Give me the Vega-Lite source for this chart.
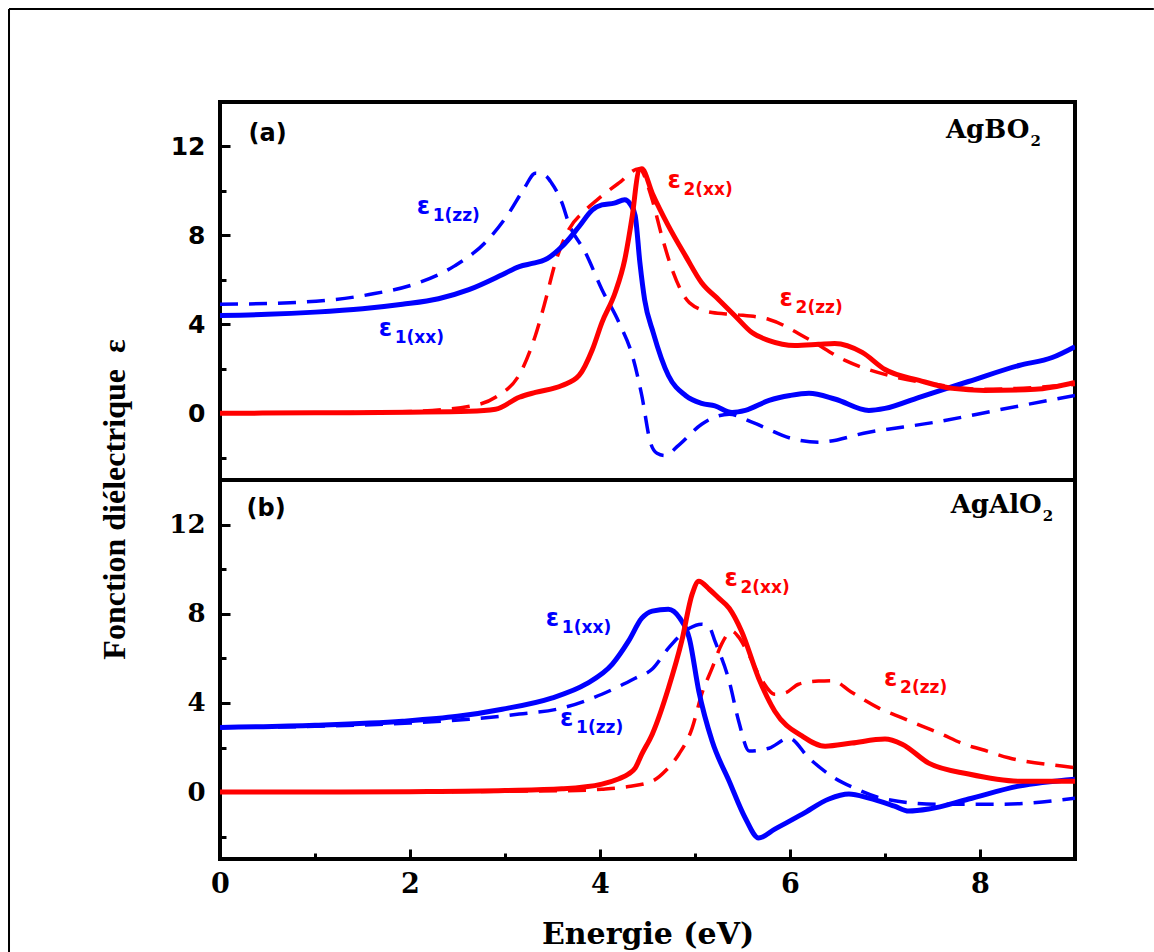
{
  "$schema": "https://vega.github.io/schema/vega-lite/v6.json",
  "padding": {"left": 6, "top": 6, "right": 0, "bottom": 0},
  "background": "white",
  "bounds": "flush",
  "spacing": 0,
  "config": {
    "view": {"stroke": "black", "strokeWidth": 4},
    "axis": {"grid": false, "domain": false, "tickColor": "black", "tickWidth": 3, "labelColor": "black", "labelFlush": false, "labelOverlap": false, "labelBound": false}
  },
  "datasets": {
    "a": [
      {"s":"e1","c":"xx","x":0,"y":4.4},{"s":"e1","c":"xx","x":0.5,"y":4.45},{"s":"e1","c":"xx","x":1,"y":4.55},{"s":"e1","c":"xx","x":1.5,"y":4.7},{"s":"e1","c":"xx","x":1.92,"y":4.9},{"s":"e1","c":"xx","x":2.3,"y":5.15},{"s":"e1","c":"xx","x":2.62,"y":5.56},{"s":"e1","c":"xx","x":2.97,"y":6.23},{"s":"e1","c":"xx","x":3.15,"y":6.6},{"s":"e1","c":"xx","x":3.3,"y":6.75},{"s":"e1","c":"xx","x":3.42,"y":6.9},{"s":"e1","c":"xx","x":3.6,"y":7.5},{"s":"e1","c":"xx","x":3.78,"y":8.4},{"s":"e1","c":"xx","x":3.92,"y":9.15},{"s":"e1","c":"xx","x":4.02,"y":9.37},{"s":"e1","c":"xx","x":4.15,"y":9.45},{"s":"e1","c":"xx","x":4.26,"y":9.6},{"s":"e1","c":"xx","x":4.32,"y":9.4},{"s":"e1","c":"xx","x":4.37,"y":8.9},{"s":"e1","c":"xx","x":4.42,"y":6.77},{"s":"e1","c":"xx","x":4.47,"y":5.1},{"s":"e1","c":"xx","x":4.56,"y":3.63},{"s":"e1","c":"xx","x":4.72,"y":1.7},{"s":"e1","c":"xx","x":4.9,"y":0.8},{"s":"e1","c":"xx","x":5.07,"y":0.45},{"s":"e1","c":"xx","x":5.21,"y":0.33},{"s":"e1","c":"xx","x":5.39,"y":0.04},{"s":"e1","c":"xx","x":5.53,"y":0.13},{"s":"e1","c":"xx","x":5.78,"y":0.58},{"s":"e1","c":"xx","x":6.0,"y":0.8},{"s":"e1","c":"xx","x":6.2,"y":0.9},{"s":"e1","c":"xx","x":6.48,"y":0.63},{"s":"e1","c":"xx","x":6.83,"y":0.13},{"s":"e1","c":"xx","x":7.0,"y":0.22},{"s":"e1","c":"xx","x":7.36,"y":0.72},{"s":"e1","c":"xx","x":7.88,"y":1.43},{"s":"e1","c":"xx","x":8.41,"y":2.15},{"s":"e1","c":"xx","x":8.76,"y":2.51},{"s":"e1","c":"xx","x":9.0,"y":3.0},
      {"s":"e1","c":"zz","x":0,"y":4.9},{"s":"e1","c":"zz","x":0.86,"y":5.0},{"s":"e1","c":"zz","x":1.57,"y":5.34},{"s":"e1","c":"zz","x":2.09,"y":5.87},{"s":"e1","c":"zz","x":2.47,"y":6.63},{"s":"e1","c":"zz","x":2.79,"y":7.67},{"s":"e1","c":"zz","x":3.04,"y":9.0},{"s":"e1","c":"zz","x":3.2,"y":10.1},{"s":"e1","c":"zz","x":3.32,"y":10.8},{"s":"e1","c":"zz","x":3.42,"y":10.7},{"s":"e1","c":"zz","x":3.49,"y":10.36},{"s":"e1","c":"zz","x":3.6,"y":9.46},{"s":"e1","c":"zz","x":3.67,"y":8.56},{"s":"e1","c":"zz","x":3.85,"y":7.2},{"s":"e1","c":"zz","x":4.02,"y":5.57},{"s":"e1","c":"zz","x":4.2,"y":4.08},{"s":"e1","c":"zz","x":4.34,"y":2.6},{"s":"e1","c":"zz","x":4.44,"y":0.8},{"s":"e1","c":"zz","x":4.53,"y":-1.3},{"s":"e1","c":"zz","x":4.6,"y":-1.8},{"s":"e1","c":"zz","x":4.68,"y":-1.9},{"s":"e1","c":"zz","x":4.83,"y":-1.43},{"s":"e1","c":"zz","x":5.07,"y":-0.49},{"s":"e1","c":"zz","x":5.36,"y":-0.04},{"s":"e1","c":"zz","x":5.6,"y":-0.4},{"s":"e1","c":"zz","x":6.05,"y":-1.17},{"s":"e1","c":"zz","x":6.3,"y":-1.3},{"s":"e1","c":"zz","x":6.83,"y":-0.85},{"s":"e1","c":"zz","x":7.53,"y":-0.4},{"s":"e1","c":"zz","x":8.23,"y":0.18},{"s":"e1","c":"zz","x":9.0,"y":0.8},
      {"s":"e2","c":"xx","x":0,"y":0},{"s":"e2","c":"xx","x":1,"y":0.02},{"s":"e2","c":"xx","x":2,"y":0.05},{"s":"e2","c":"xx","x":2.62,"y":0.09},{"s":"e2","c":"xx","x":2.9,"y":0.18},{"s":"e2","c":"xx","x":3.15,"y":0.72},{"s":"e2","c":"xx","x":3.32,"y":0.94},{"s":"e2","c":"xx","x":3.6,"y":1.25},{"s":"e2","c":"xx","x":3.78,"y":1.7},{"s":"e2","c":"xx","x":3.92,"y":2.87},{"s":"e2","c":"xx","x":4.02,"y":4.08},{"s":"e2","c":"xx","x":4.16,"y":5.43},{"s":"e2","c":"xx","x":4.26,"y":6.9},{"s":"e2","c":"xx","x":4.34,"y":8.88},{"s":"e2","c":"xx","x":4.41,"y":10.94},{"s":"e2","c":"xx","x":4.44,"y":11.0},{"s":"e2","c":"xx","x":4.55,"y":9.9},{"s":"e2","c":"xx","x":4.72,"y":8.43},{"s":"e2","c":"xx","x":4.9,"y":7.08},{"s":"e2","c":"xx","x":5.07,"y":5.87},{"s":"e2","c":"xx","x":5.25,"y":5.11},{"s":"e2","c":"xx","x":5.42,"y":4.39},{"s":"e2","c":"xx","x":5.6,"y":3.63},{"s":"e2","c":"xx","x":5.78,"y":3.27},{"s":"e2","c":"xx","x":6.05,"y":3.05},{"s":"e2","c":"xx","x":6.3,"y":3.1},{"s":"e2","c":"xx","x":6.47,"y":3.14},{"s":"e2","c":"xx","x":6.76,"y":2.74},{"s":"e2","c":"xx","x":7.0,"y":1.97},{"s":"e2","c":"xx","x":7.36,"y":1.48},{"s":"e2","c":"xx","x":7.71,"y":1.12},{"s":"e2","c":"xx","x":8.05,"y":1.03},{"s":"e2","c":"xx","x":8.58,"y":1.08},{"s":"e2","c":"xx","x":9.0,"y":1.39},
      {"s":"e2","c":"zz","x":0,"y":0},{"s":"e2","c":"zz","x":1,"y":0.02},{"s":"e2","c":"zz","x":2,"y":0.08},{"s":"e2","c":"zz","x":2.68,"y":0.36},{"s":"e2","c":"zz","x":2.9,"y":0.72},{"s":"e2","c":"zz","x":3.18,"y":1.97},{"s":"e2","c":"zz","x":3.32,"y":3.5},{"s":"e2","c":"zz","x":3.42,"y":4.98},{"s":"e2","c":"zz","x":3.53,"y":6.77},{"s":"e2","c":"zz","x":3.67,"y":8.25},{"s":"e2","c":"zz","x":3.85,"y":9.15},{"s":"e2","c":"zz","x":3.97,"y":9.6},{"s":"e2","c":"zz","x":4.2,"y":10.36},{"s":"e2","c":"zz","x":4.41,"y":11.0},{"s":"e2","c":"zz","x":4.55,"y":9.6},{"s":"e2","c":"zz","x":4.65,"y":7.98},{"s":"e2","c":"zz","x":4.76,"y":6.46},{"s":"e2","c":"zz","x":4.94,"y":4.98},{"s":"e2","c":"zz","x":5.18,"y":4.53},{"s":"e2","c":"zz","x":5.42,"y":4.44},{"s":"e2","c":"zz","x":5.78,"y":4.22},{"s":"e2","c":"zz","x":6.2,"y":3.32},{"s":"e2","c":"zz","x":6.58,"y":2.38},{"s":"e2","c":"zz","x":7.04,"y":1.7},{"s":"e2","c":"zz","x":7.53,"y":1.3},{"s":"e2","c":"zz","x":8.05,"y":1.08},{"s":"e2","c":"zz","x":9.0,"y":1.3}
    ],
    "b": [
      {"s":"e1","c":"xx","x":0,"y":2.9},{"s":"e1","c":"xx","x":1,"y":3.0},{"s":"e1","c":"xx","x":1.92,"y":3.18},{"s":"e1","c":"xx","x":2.5,"y":3.4},{"s":"e1","c":"xx","x":2.97,"y":3.72},{"s":"e1","c":"xx","x":3.49,"y":4.22},{"s":"e1","c":"xx","x":3.85,"y":4.84},{"s":"e1","c":"xx","x":4.13,"y":5.74},{"s":"e1","c":"xx","x":4.3,"y":6.77},{"s":"e1","c":"xx","x":4.44,"y":7.8},{"s":"e1","c":"xx","x":4.55,"y":8.12},{"s":"e1","c":"xx","x":4.72,"y":8.2},{"s":"e1","c":"xx","x":4.84,"y":7.8},{"s":"e1","c":"xx","x":4.94,"y":6.9},{"s":"e1","c":"xx","x":5.04,"y":4.53},{"s":"e1","c":"xx","x":5.18,"y":2.29},{"s":"e1","c":"xx","x":5.36,"y":0.49},{"s":"e1","c":"xx","x":5.53,"y":-1.17},{"s":"e1","c":"xx","x":5.67,"y":-2.06},{"s":"e1","c":"xx","x":5.84,"y":-1.66},{"s":"e1","c":"xx","x":6.13,"y":-0.99},{"s":"e1","c":"xx","x":6.41,"y":-0.31},{"s":"e1","c":"xx","x":6.62,"y":-0.09},{"s":"e1","c":"xx","x":6.83,"y":-0.27},{"s":"e1","c":"xx","x":7.1,"y":-0.63},{"s":"e1","c":"xx","x":7.25,"y":-0.85},{"s":"e1","c":"xx","x":7.46,"y":-0.76},{"s":"e1","c":"xx","x":7.88,"y":-0.31},{"s":"e1","c":"xx","x":8.41,"y":0.27},{"s":"e1","c":"xx","x":9.0,"y":0.58},
      {"s":"e1","c":"zz","x":0,"y":2.9},{"s":"e1","c":"zz","x":1,"y":2.95},{"s":"e1","c":"zz","x":2,"y":3.1},{"s":"e1","c":"zz","x":2.62,"y":3.27},{"s":"e1","c":"zz","x":3.15,"y":3.5},{"s":"e1","c":"zz","x":3.6,"y":3.77},{"s":"e1","c":"zz","x":4.02,"y":4.39},{"s":"e1","c":"zz","x":4.37,"y":5.11},{"s":"e1","c":"zz","x":4.55,"y":5.52},{"s":"e1","c":"zz","x":4.72,"y":6.46},{"s":"e1","c":"zz","x":4.94,"y":7.35},{"s":"e1","c":"zz","x":5.07,"y":7.53},{"s":"e1","c":"zz","x":5.15,"y":7.4},{"s":"e1","c":"zz","x":5.21,"y":6.77},{"s":"e1","c":"zz","x":5.36,"y":4.98},{"s":"e1","c":"zz","x":5.46,"y":3.18},{"s":"e1","c":"zz","x":5.57,"y":1.84},{"s":"e1","c":"zz","x":5.78,"y":1.97},{"s":"e1","c":"zz","x":5.99,"y":2.42},{"s":"e1","c":"zz","x":6.2,"y":1.52},{"s":"e1","c":"zz","x":6.47,"y":0.63},{"s":"e1","c":"zz","x":6.68,"y":0.18},{"s":"e1","c":"zz","x":7.0,"y":-0.31},{"s":"e1","c":"zz","x":7.53,"y":-0.54},{"s":"e1","c":"zz","x":8.23,"y":-0.54},{"s":"e1","c":"zz","x":9.0,"y":-0.27},
      {"s":"e2","c":"xx","x":0,"y":0},{"s":"e2","c":"xx","x":1,"y":0.0},{"s":"e2","c":"xx","x":2,"y":0.02},{"s":"e2","c":"xx","x":3,"y":0.07},{"s":"e2","c":"xx","x":3.6,"y":0.15},{"s":"e2","c":"xx","x":4.02,"y":0.36},{"s":"e2","c":"xx","x":4.2,"y":0.6},{"s":"e2","c":"xx","x":4.3,"y":0.81},{"s":"e2","c":"xx","x":4.37,"y":1.08},{"s":"e2","c":"xx","x":4.44,"y":1.7},{"s":"e2","c":"xx","x":4.55,"y":2.6},{"s":"e2","c":"xx","x":4.72,"y":4.66},{"s":"e2","c":"xx","x":4.86,"y":6.77},{"s":"e2","c":"xx","x":4.97,"y":8.88},{"s":"e2","c":"xx","x":5.04,"y":9.46},{"s":"e2","c":"xx","x":5.15,"y":9.1},{"s":"e2","c":"xx","x":5.25,"y":8.7},{"s":"e2","c":"xx","x":5.36,"y":8.25},{"s":"e2","c":"xx","x":5.49,"y":7.22},{"s":"e2","c":"xx","x":5.67,"y":5.11},{"s":"e2","c":"xx","x":5.84,"y":3.63},{"s":"e2","c":"xx","x":6.13,"y":2.51},{"s":"e2","c":"xx","x":6.37,"y":2.06},{"s":"e2","c":"xx","x":6.65,"y":2.2},{"s":"e2","c":"xx","x":7.0,"y":2.38},{"s":"e2","c":"xx","x":7.18,"y":2.15},{"s":"e2","c":"xx","x":7.46,"y":1.3},{"s":"e2","c":"xx","x":7.88,"y":0.81},{"s":"e2","c":"xx","x":8.41,"y":0.49},{"s":"e2","c":"xx","x":9.0,"y":0.49},
      {"s":"e2","c":"zz","x":0,"y":0},{"s":"e2","c":"zz","x":1,"y":0},{"s":"e2","c":"zz","x":2,"y":0.01},{"s":"e2","c":"zz","x":3,"y":0.04},{"s":"e2","c":"zz","x":3.6,"y":0.06},{"s":"e2","c":"zz","x":4.02,"y":0.13},{"s":"e2","c":"zz","x":4.3,"y":0.25},{"s":"e2","c":"zz","x":4.55,"y":0.49},{"s":"e2","c":"zz","x":4.7,"y":1.0},{"s":"e2","c":"zz","x":4.83,"y":1.7},{"s":"e2","c":"zz","x":4.97,"y":2.87},{"s":"e2","c":"zz","x":5.07,"y":4.39},{"s":"e2","c":"zz","x":5.18,"y":5.56},{"s":"e2","c":"zz","x":5.28,"y":6.64},{"s":"e2","c":"zz","x":5.39,"y":7.22},{"s":"e2","c":"zz","x":5.46,"y":6.95},{"s":"e2","c":"zz","x":5.55,"y":6.3},{"s":"e2","c":"zz","x":5.71,"y":4.98},{"s":"e2","c":"zz","x":5.84,"y":4.39},{"s":"e2","c":"zz","x":5.95,"y":4.45},{"s":"e2","c":"zz","x":6.09,"y":4.84},{"s":"e2","c":"zz","x":6.3,"y":4.98},{"s":"e2","c":"zz","x":6.45,"y":5.0},{"s":"e2","c":"zz","x":6.64,"y":4.5},{"s":"e2","c":"zz","x":6.93,"y":3.78},{"s":"e2","c":"zz","x":7.2,"y":3.3},{"s":"e2","c":"zz","x":7.39,"y":2.96},{"s":"e2","c":"zz","x":7.57,"y":2.65},{"s":"e2","c":"zz","x":7.84,"y":2.14},{"s":"e2","c":"zz","x":8.02,"y":1.91},{"s":"e2","c":"zz","x":8.3,"y":1.54},{"s":"e2","c":"zz","x":8.86,"y":1.17},{"s":"e2","c":"zz","x":9.0,"y":1.1}
    ]
  },
  "resolve": {"scale": {"x": "independent", "y": "independent", "color": "shared"}},
  "vconcat": [
    {
      "width": 855,
      "height": 378,
      "resolve": {"axis": {"x": "independent", "y": "independent"}},
      "layer": [
        {
          "layer": [
            {
              "data": {"name": "a"},
              "transform": [{"filter": "datum.c === 'zz'"}],
              "mark": {"type": "line", "strokeDash": [18, 11], "strokeWidth": 3.5, "interpolate": "monotone", "clip": true},
              "encoding": {
                "x": {"field": "x", "type": "quantitative", "scale": {"domain": [0, 9], "nice": false, "zero": false}, "axis": null},
                "y": {
                  "field": "y", "type": "quantitative",
                  "scale": {"domain": [-3, 14], "nice": false, "zero": false},
                  "axis": {
                    "values": [-2, 0, 2, 4, 6, 8, 10, 12],
                    "format": "d",
                    "labelExpr": "datum.value % 4 === 0 ? datum.label : ''",
                    "tickSize": {"condition": {"test": "datum.value % 4 === 0", "value": -10}, "value": -6},
                    "labelPadding": 25,
                    "labelFont": "DejaVu Sans", "labelFontWeight": "bold", "labelFontSize": 25,
                    "title": "Fonction diélectrique\u00a0 ε",
                    "titleFont": "Liberation Serif", "titleFontWeight": "bold", "titleFontSize": 32, "titleColor": "black",
                    "titleAngle": -90, "titleAlign": "center", "titleBaseline": "middle",
                    "titleX": -106, "titleY": 397
                  }
                },
                "color": {"field": "s", "type": "nominal", "scale": {"domain": ["e1", "e2"], "range": ["#0000ff", "#ff0000"]}, "legend": null}
              }
            },
            {
              "data": {"name": "a"},
              "transform": [{"filter": "datum.c === 'xx'"}],
              "mark": {"type": "line", "strokeWidth": 5, "interpolate": "monotone", "clip": true},
              "encoding": {
                "x": {"field": "x", "type": "quantitative"},
                "y": {"field": "y", "type": "quantitative"},
                "color": {"field": "s", "type": "nominal", "legend": null}
              }
            },
            {
              "data": {"values": [
                {"s": "e1", "sub": "1(zz)", "x": 2.07, "y": 9.27},
                {"s": "e1", "sub": "1(xx)", "x": 1.67, "y": 3.81},
                {"s": "e2", "sub": "2(xx)", "x": 4.71, "y": 10.43},
                {"s": "e2", "sub": "2(zz)", "x": 5.89, "y": 5.15}
              ]},
              "layer": [
                {
                  "mark": {"type": "text", "align": "left", "baseline": "middle", "font": "DejaVu Sans", "fontWeight": "bold", "fontSize": 24},
                  "encoding": {
                    "x": {"field": "x", "type": "quantitative"},
                    "y": {"field": "y", "type": "quantitative"},
                    "text": {"value": "ε"},
                    "color": {"field": "s", "type": "nominal", "legend": null}
                  }
                },
                {
                  "mark": {"type": "text", "align": "left", "baseline": "middle", "font": "DejaVu Sans", "fontWeight": "bold", "fontSize": 17, "dx": 16, "dy": 9},
                  "encoding": {
                    "x": {"field": "x", "type": "quantitative"},
                    "y": {"field": "y", "type": "quantitative"},
                    "text": {"field": "sub"},
                    "color": {"field": "s", "type": "nominal", "legend": null}
                  }
                }
              ]
            },
            {
              "data": {"values": [{"t": "(a)", "x": 0.3, "y": 12.58}]},
              "mark": {"type": "text", "align": "left", "baseline": "middle", "font": "DejaVu Sans", "fontWeight": "bold", "fontSize": 24, "color": "black"},
              "encoding": {"x": {"field": "x", "type": "quantitative"}, "y": {"field": "y", "type": "quantitative"}, "text": {"field": "t"}}
            },
            {
              "data": {"values": [{"t": "AgBO", "sub": "2", "x": 8.52, "y": 12.36}]},
              "layer": [
                {
                  "mark": {"type": "text", "align": "right", "baseline": "alphabetic", "font": "DejaVu Serif", "fontWeight": "bold", "fontSize": 26, "color": "black"},
                  "encoding": {"x": {"field": "x", "type": "quantitative"}, "y": {"field": "y", "type": "quantitative"}, "text": {"field": "t"}}
                },
                {
                  "mark": {"type": "text", "align": "left", "baseline": "alphabetic", "font": "DejaVu Serif", "fontWeight": "bold", "fontSize": 15, "color": "black", "dx": 1, "dy": 8},
                  "encoding": {"x": {"field": "x", "type": "quantitative"}, "y": {"field": "y", "type": "quantitative"}, "text": {"field": "sub"}}
                }
              ]
            }
          ]
        },
        {
          "data": {"values": [{}]},
          "layer": [
            {
              "mark": {"type": "rule", "clip": false, "color": "black", "strokeWidth": 2},
              "encoding": {
                "x": {"datum": -2.221, "type": "quantitative", "axis": null},
                "x2": {"datum": 9.83},
                "y": {"datum": 18.18, "type": "quantitative", "axis": null}
              }
            },
            {
              "mark": {"type": "rule", "clip": false, "color": "black", "strokeWidth": 2},
              "encoding": {
                "x": {"datum": -2.221, "type": "quantitative", "axis": null},
                "y": {"datum": 18.18, "type": "quantitative", "axis": null},
                "y2": {"datum": -24.25}
              }
            }
          ]
        }
      ]
    },
    {
      "width": 855,
      "height": 379,
      "layer": [
        {
          "data": {"name": "b"},
          "transform": [{"filter": "datum.c === 'zz'"}],
          "mark": {"type": "line", "strokeDash": [18, 11], "strokeWidth": 3.5, "interpolate": "monotone", "clip": true},
          "encoding": {
            "x": {
              "field": "x", "type": "quantitative",
              "scale": {"domain": [0, 9], "nice": false, "zero": false},
              "axis": {
                "values": [0, 1, 2, 3, 4, 5, 6, 7, 8],
                "format": "d",
                "labelExpr": "datum.value % 2 === 0 ? datum.label : ''",
                "tickSize": {"condition": {"test": "datum.value % 2 === 0", "value": -10}, "value": -6},
                "labelPadding": 22,
                "labelFont": "DejaVu Serif", "labelFontWeight": "bold", "labelFontSize": 27,
                "title": "Energie (eV)",
                "titleFont": "DejaVu Serif", "titleFontWeight": "bold", "titleFontSize": 30, "titleColor": "black",
                "titlePadding": 18
              }
            },
            "y": {
              "field": "y", "type": "quantitative",
              "scale": {"domain": [-3, 14], "nice": false, "zero": false},
              "axis": {
                "values": [-2, 0, 2, 4, 6, 8, 10, 12],
                "format": "d",
                "labelExpr": "datum.value % 4 === 0 ? datum.label : ''",
                "tickSize": {"condition": {"test": "datum.value % 4 === 0", "value": -10}, "value": -6},
                "labelPadding": 25,
                "labelFont": "DejaVu Serif", "labelFontWeight": "bold", "labelFontSize": 26,
                "title": null
              }
            },
            "color": {"field": "s", "type": "nominal", "legend": null}
          }
        },
        {
          "data": {"name": "b"},
          "transform": [{"filter": "datum.c === 'xx'"}],
          "mark": {"type": "line", "strokeWidth": 5, "interpolate": "monotone", "clip": true},
          "encoding": {
            "x": {"field": "x", "type": "quantitative"},
            "y": {"field": "y", "type": "quantitative"},
            "color": {"field": "s", "type": "nominal", "legend": null}
          }
        },
        {
          "data": {"values": [
            {"s": "e1", "sub": "1(xx)", "x": 3.43, "y": 7.76},
            {"s": "e1", "sub": "1(zz)", "x": 3.58, "y": 3.27},
            {"s": "e2", "sub": "2(xx)", "x": 5.31, "y": 9.55},
            {"s": "e2", "sub": "2(zz)", "x": 6.99, "y": 5.07}
          ]},
          "layer": [
            {
              "mark": {"type": "text", "align": "left", "baseline": "middle", "font": "DejaVu Sans", "fontWeight": "bold", "fontSize": 24},
              "encoding": {
                "x": {"field": "x", "type": "quantitative"},
                "y": {"field": "y", "type": "quantitative"},
                "text": {"value": "ε"},
                "color": {"field": "s", "type": "nominal", "legend": null}
              }
            },
            {
              "mark": {"type": "text", "align": "left", "baseline": "middle", "font": "DejaVu Sans", "fontWeight": "bold", "fontSize": 17, "dx": 16, "dy": 9},
              "encoding": {
                "x": {"field": "x", "type": "quantitative"},
                "y": {"field": "y", "type": "quantitative"},
                "text": {"field": "sub"},
                "color": {"field": "s", "type": "nominal", "legend": null}
              }
            }
          ]
        },
        {
          "data": {"values": [{"t": "(b)", "x": 0.28, "y": 12.69}]},
          "mark": {"type": "text", "align": "left", "baseline": "middle", "font": "DejaVu Sans", "fontWeight": "bold", "fontSize": 24, "color": "black"},
          "encoding": {"x": {"field": "x", "type": "quantitative"}, "y": {"field": "y", "type": "quantitative"}, "text": {"field": "t"}}
        },
        {
          "data": {"values": [{"t": "AgAlO", "sub": "2", "x": 8.65, "y": 12.51}]},
          "layer": [
            {
              "mark": {"type": "text", "align": "right", "baseline": "alphabetic", "font": "DejaVu Serif", "fontWeight": "bold", "fontSize": 26, "color": "black"},
              "encoding": {"x": {"field": "x", "type": "quantitative"}, "y": {"field": "y", "type": "quantitative"}, "text": {"field": "t"}}
            },
            {
              "mark": {"type": "text", "align": "left", "baseline": "alphabetic", "font": "DejaVu Serif", "fontWeight": "bold", "fontSize": 15, "color": "black", "dx": 1, "dy": 8},
              "encoding": {"x": {"field": "x", "type": "quantitative"}, "y": {"field": "y", "type": "quantitative"}, "text": {"field": "sub"}}
            }
          ]
        }
      ]
    }
  ]
}
